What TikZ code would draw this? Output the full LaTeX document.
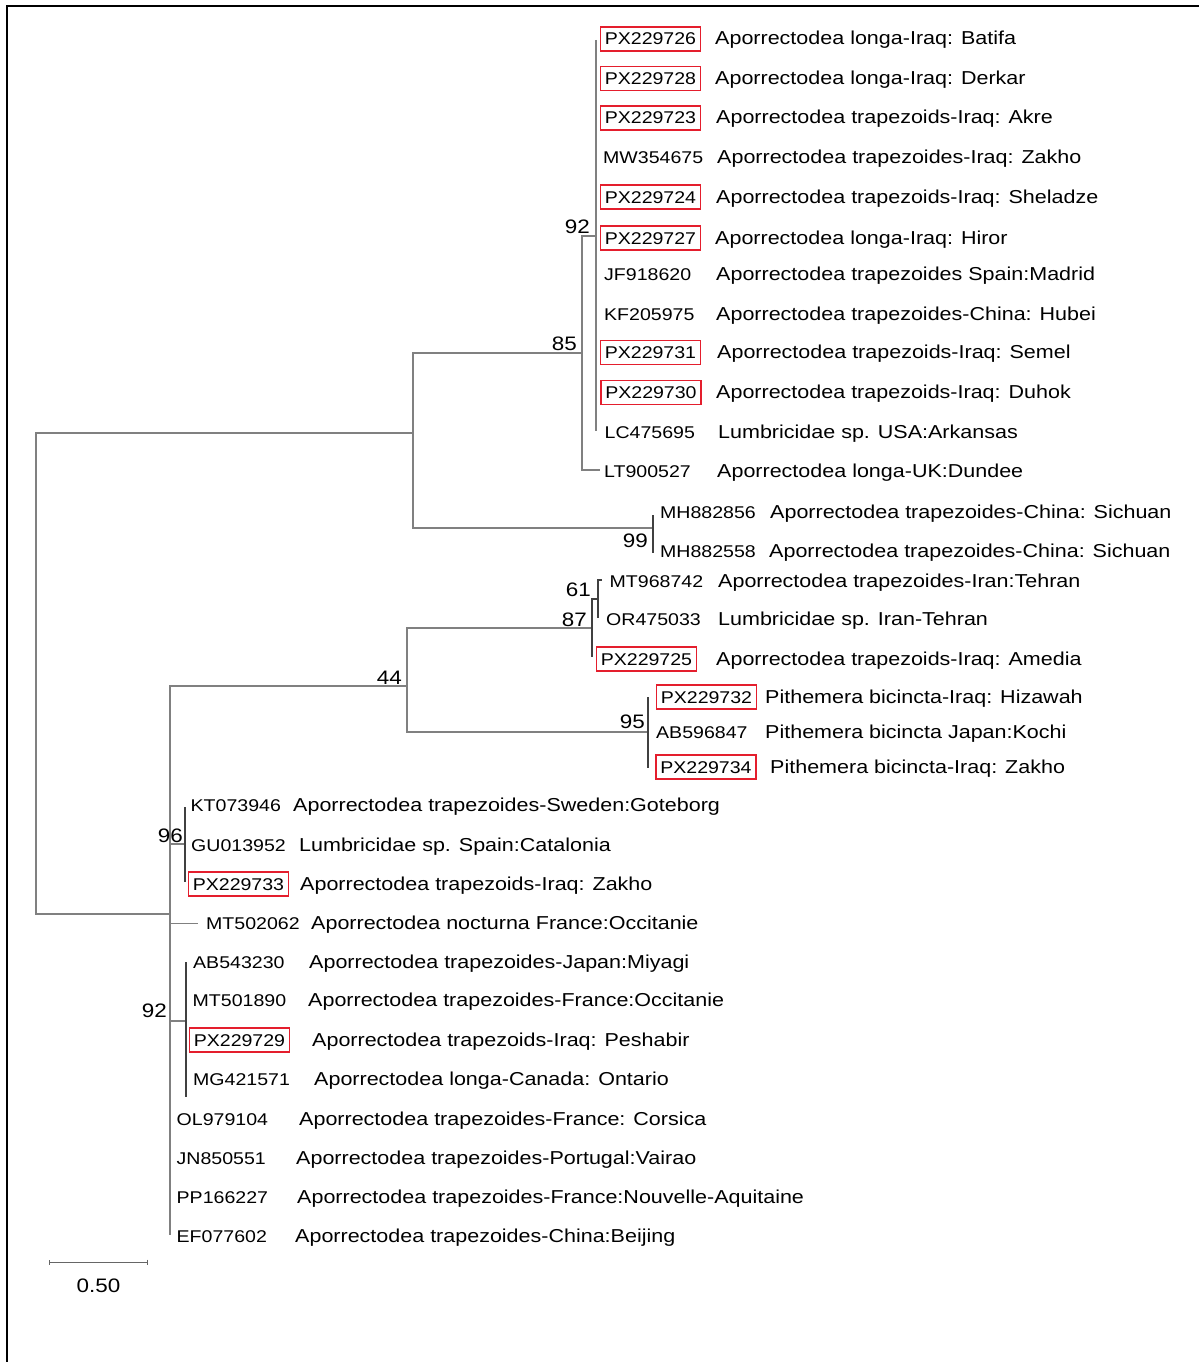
\documentclass[tikz,border=0pt]{standalone}
\usepackage{fontspec}
\setmainfont{Liberation Sans}[FakeStretch=1.15]
\usetikzlibrary{arrows.meta}
\definecolor{boxred}{RGB}{228,30,45}

\tikzset{
  acc/.style={anchor=base west, inner xsep=4.5pt, inner ysep=6pt, font=\fontsize{17}{20}\selectfont},
  accbox/.style={acc, draw=boxred, line width=1.6pt},
  taxon/.style={anchor=base west, inner sep=0pt, font=\fontsize{18.7}{22}\selectfont},
  boot/.style={anchor=base east, inner sep=0pt, font=\fontsize{19.5}{22}\selectfont},
  branch/.style={draw=black!50, line width=1.2pt},
  twig/.style={draw=black!75, line width=1.2pt}
}

\begin{document}
\begin{tikzpicture}[x=1pt, y=-1pt]
	\useasboundingbox (0,0) rectangle (1199,1362);
	\draw[line width=2.6pt] (7,1362) -- (7,6) -- (1199,6);
	
	\node[accbox] (PX229726) at (599.5,45) {PX229726};   \node[taxon] (PX229726t) at (715,45) {Aporrectodea longa-Iraq: Batifa};
	\node[accbox] (PX229728) at (599.5,84.5) {PX229728}; \node[taxon] (PX229728t) at (715,84.5) {Aporrectodea longa-Iraq: Derkar};
	\node[accbox] (PX229723) at (599.5,124) {PX229723};  \node[taxon] (PX229723t) at (716,124) {Aporrectodea trapezoids-Iraq: Akre};
	\node[acc] (MW354675) at (598.5,164) {MW354675};     \node[taxon] (MW354675t) at (717,164) {Aporrectodea trapezoides-Iraq: Zakho};
	\node[accbox] (PX229724) at (599.5,203) {PX229724};  \node[taxon] (PX229724t) at (716,203) {Aporrectodea trapezoids-Iraq: Sheladze};
	\node[accbox] (PX229727) at (599.5,244) {PX229727};  \node[taxon] (PX229727t) at (715,244) {Aporrectodea longa-Iraq: Hiror};
	\node[acc] (JF918620) at (599.5,280) {JF918620};     \node[taxon] (JF918620t) at (716,280) {Aporrectodea trapezoides Spain:Madrid};
	\node[acc] (KF205975) at (599.5,320) {KF205975};     \node[taxon] (KF205975t) at (716,320) {Aporrectodea trapezoides-China: Hubei};
	\node[accbox] (PX229731) at (599.5,358.5) {PX229731}; \node[taxon] (PX229731t) at (717,358.5) {Aporrectodea trapezoids-Iraq: Semel};
	\node[accbox] (PX229730) at (600,398.5) {PX229730};  \node[taxon] (PX229730t) at (716,398.5) {Aporrectodea trapezoids-Iraq: Duhok};
	\node[acc] (LC475695) at (600,438.5) {LC475695};     \node[taxon] (LC475695t) at (718,438.5) {Lumbricidae sp. USA:Arkansas};
	\node[acc] (LT900527) at (599.5,477) {LT900527};     \node[taxon] (LT900527t) at (717,477) {Aporrectodea longa-UK:Dundee};
	\node[acc] (MH882856) at (655.5,518) {MH882856};     \node[taxon] (MH882856t) at (770,518) {Aporrectodea trapezoides-China: Sichuan};
	\node[acc] (MH882558) at (655.5,557) {MH882558};     \node[taxon] (MH882558t) at (769,557) {Aporrectodea trapezoides-China: Sichuan};
	\node[acc] (MT968742) at (605,587) {MT968742};       \node[taxon] (MT968742t) at (718,587) {Aporrectodea trapezoides-Iran:Tehran};
	\node[acc] (OR475033) at (601.5,625) {OR475033};     \node[taxon] (OR475033t) at (718,625) {Lumbricidae sp. Iran-Tehran};
	\node[accbox] (PX229725) at (595.5,665) {PX229725};  \node[taxon] (PX229725t) at (716,665) {Aporrectodea trapezoids-Iraq: Amedia};
	\node[accbox] (PX229732) at (655.5,703) {PX229732};  \node[taxon] (PX229732t) at (765,703) {Pithemera bicincta-Iraq: Hizawah};
	\node[acc] (AB596847) at (651.5,738) {AB596847};     \node[taxon] (AB596847t) at (765,738) {Pithemera bicincta Japan:Kochi};
	\node[accbox] (PX229734) at (655,773) {PX229734};    \node[taxon] (PX229734t) at (770,773) {Pithemera bicincta-Iraq: Zakho};
	\node[acc] (KT073946) at (186,811) {KT073946};       \node[taxon] (KT073946t) at (293,811) {Aporrectodea trapezoides-Sweden:Goteborg};
	\node[acc] (GU013952) at (186.5,851) {GU013952};     \node[taxon] (GU013952t) at (299,851) {Lumbricidae sp. Spain:Catalonia};
	\node[accbox] (PX229733) at (187.5,890) {PX229733};  \node[taxon] (PX229733t) at (300,890) {Aporrectodea trapezoids-Iraq: Zakho};
	\node[acc] (MT502062) at (201.5,929) {MT502062};     \node[taxon] (MT502062t) at (311,929) {Aporrectodea nocturna France:Occitanie};
	\node[acc] (AB543230) at (188.5,968) {AB543230};     \node[taxon] (AB543230t) at (309,968) {Aporrectodea trapezoides-Japan:Miyagi};
	\node[acc] (MT501890) at (188,1006) {MT501890};      \node[taxon] (MT501890t) at (308,1006) {Aporrectodea trapezoides-France:Occitanie};
	\node[accbox] (PX229729) at (188.5,1046) {PX229729}; \node[taxon] (PX229729t) at (312,1046) {Aporrectodea trapezoids-Iraq: Peshabir};
	\node[acc] (MG421571) at (188.5,1085) {MG421571};    \node[taxon] (MG421571t) at (314,1085) {Aporrectodea longa-Canada: Ontario};
	\node[acc] (OL979104) at (172,1125) {OL979104};      \node[taxon] (OL979104t) at (299,1125) {Aporrectodea trapezoides-France: Corsica};
	\node[acc] (JN850551) at (172,1164) {JN850551};      \node[taxon] (JN850551t) at (296,1164) {Aporrectodea trapezoides-Portugal:Vairao};
	\node[acc] (PP166227) at (172,1203) {PP166227};      \node[taxon] (PP166227t) at (297,1203) {Aporrectodea trapezoides-France:Nouvelle-Aquitaine};
	\node[acc] (EF077602) at (172,1242) {EF077602};      \node[taxon] (EF077602t) at (295,1242) {Aporrectodea trapezoides-China:Beijing};
	
	\coordinate (r1) at (36,433);  \coordinate (r2) at (36,914);
	\coordinate (a1) at (413,353); \coordinate (a2) at (413,528);
	\coordinate (b1) at (582,236); \coordinate (b2) at (582,470);
	\coordinate (c1) at (596,40);  \coordinate (c2) at (596,431);
	\coordinate (d1) at (653,515); \coordinate (d2) at (653,553);
	\coordinate (e1) at (170,686); \coordinate (e2) at (170,1235);
	\coordinate (h1) at (407,628); \coordinate (h2) at (407,732);
	\coordinate (i1) at (592,599); \coordinate (i2) at (592,657);
	\coordinate (j1) at (598,580); \coordinate (j2) at (598,618);
	\coordinate (k1) at (648,697); \coordinate (k2) at (648,768);
	\coordinate (f0) at (185,844); \coordinate (f1) at (185,807); \coordinate (f2) at (185,882);
	\coordinate (g0) at (186,1021); \coordinate (g1) at (186,962); \coordinate (g2) at (186,1097);
	
	\draw[branch] (a1 |- r1) -- (r1) -- (r2) -- (e1 |- r2);
	\draw[branch] (b1 |- a1) -- (a1) -- (a2) -- (d1 |- a2);
	\draw[branch] (c1 |- b1) -- (b1) -- (b2) -- (LT900527.west |- b2);
	\draw[branch] (c1) -- (c2);
	\draw[twig] (d1) -- (d2);
	\draw[branch] (h1 |- e1) -- (e1) -- (e2);
	\draw[branch] (e1 |- f0) -- (f0);
	\draw[branch, shorten >=3.5pt] (e1 |- MT502062.west) -- (MT502062.west);
	\draw[branch] (e1 |- g0) -- (g0);
	\draw[twig] (f1) -- (f2);
	\draw[twig] (g1) -- (g2);
	\draw[branch] (i1 |- h1) -- (h1) -- (h2) -- (k1 |- h2);
	\draw[twig] (k1) -- (k2);
	\draw[twig] (j1 |- i1) -- (i1) -- (i2);
	\draw[twig, shorten <=3pt] (MT968742.west |- j1) -- (j1) -- (j2);
	
	\node[boot] (bs92a) at (590,233) {92};
	\node[boot] (bs85) at (577,350) {85};
	\node[boot] (bs99) at (648,547) {99};
	\node[boot] (bs44) at (402,684) {44};
	\node[boot] (bs61) at (591,596) {61};
	\node[boot] (bs87) at (587,626) {87};
	\node[boot] (bs95) at (645,728) {95};
	\node[boot] (bs96) at (183,842) {96};
	\node[boot] (bs92b) at (167,1017) {92};
	
	\coordinate (sb1) at (49,1262); \coordinate (sb2) at (148,1262);
	\draw[draw=black!60, line width=1pt, {Bar[width=5pt]}-{Bar[width=5pt]}] (sb1) -- (sb2);
	\node[boot, anchor=base] (sblabel) at (98.5,1292) {0.50};
\end{tikzpicture}
\end{document}
